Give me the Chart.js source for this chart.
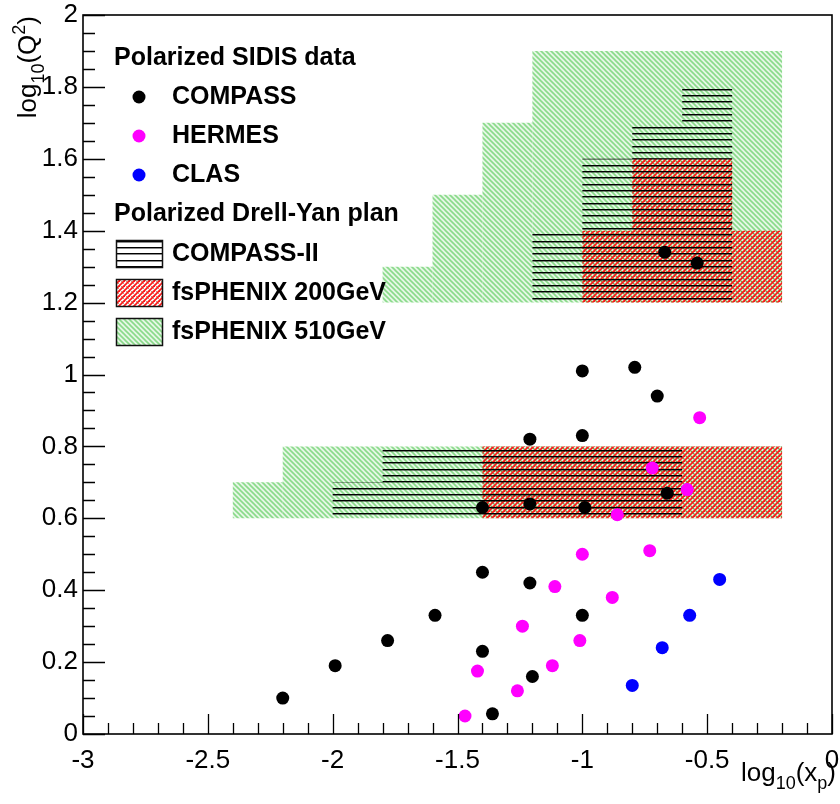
<!DOCTYPE html>
<html>
<head>
<meta charset="utf-8">
<script src="https://cdn.jsdelivr.net/npm/chart.js@4/dist/chart.umd.min.js"></script>
<style>
  html, body { margin: 0; padding: 0; background: #fff; }
</style>
</head>
<body>
<canvas id="kin" width="840" height="804"></canvas>
<script>
// log10(x) vs log10(Q^2) coverage: SIDIS data points and Drell-Yan projections
const xTickValues = [-3, -2.5, -2, -1.5, -1, -0.5, 0];
const xTickLabels = ["-3", "-2.5", "-2", "-1.5", "-1", "-0.5", "0"];
const yTickValues = [0, 0.2, 0.4, 0.6, 0.8, 1, 1.2, 1.4, 1.6, 1.8, 2];
const yTickLabels = ["0", "0.2", "0.4", "0.6", "0.8", "1", "1.2", "1.4", "1.6", "1.8", "2"];

// SIDIS measurements, [log10(x), log10(Q2)]
const compassPts = [
  [-2.20, 0.10], [-1.99, 0.19], [-1.78, 0.26], [-1.59, 0.33], [-1.40, 0.45],
  [-1.40, 0.23], [-1.36, 0.056], [-1.21, 0.42], [-1.20, 0.16], [-1.00, 0.33],
  [-1.40, 0.63], [-1.21, 0.64], [-0.99, 0.63], [-1.21, 0.82], [-1.00, 0.83],
  [-1.00, 1.01], [-0.79, 1.02], [-0.70, 0.94], [-0.66, 0.67], [-0.67, 1.34],
  [-0.54, 1.31]
];
const hermesPts = [
  [-1.47, 0.05], [-1.42, 0.175], [-1.26, 0.12], [-1.24, 0.30], [-1.12, 0.19],
  [-1.11, 0.41], [-1.01, 0.26], [-1.00, 0.50], [-0.88, 0.38], [-0.73, 0.51],
  [-0.86, 0.61], [-0.72, 0.74], [-0.58, 0.68], [-0.53, 0.88]
];
const clasPts = [[-0.80, 0.135], [-0.68, 0.24], [-0.57, 0.33], [-0.45, 0.43]];

// Drell-Yan bins, [xLow, xHigh, yLow, yHigh]
const compass2Bins = [
  [-1.2, -0.4, 1.2, 1.4], [-1.0, -0.4, 1.4, 1.6], [-0.8, -0.4, 1.6, 1.7], [-0.6, -0.4, 1.7, 1.8],
  [-2.0, -0.6, 0.6, 0.7], [-1.8, -0.6, 0.7, 0.8]
];
const phenix200Bins = [
  [-1.0, -0.2, 1.2, 1.4], [-0.8, -0.4, 1.4, 1.6], [-1.4, -0.2, 0.6, 0.8]
];
const phenix510Bins = [
  [-1.8, -1.6, 1.2, 1.3], [-1.6, -1.4, 1.2, 1.5], [-1.4, -1.2, 1.2, 1.7], [-1.2, -0.2, 1.2, 1.9],
  [-2.4, -2.2, 0.6, 0.7], [-2.2, -0.2, 0.6, 0.8]
];

const FONT = '"Liberation Sans", Arial, Helvetica, sans-serif';
const canvas = document.getElementById("kin");
const ctx = canvas.getContext("2d");

function makePattern(w, h, paint) {
  const tile = document.createElement("canvas");
  tile.width = w;
  tile.height = h;
  paint(tile.getContext("2d"), w, h);
  return ctx.createPattern(tile, "repeat");
}

// ROOT-like hatch styles
const greenHatch = makePattern(5, 5, (g, s) => {
  g.fillStyle = "rgba(205,240,205,0.5)";
  g.fillRect(0, 0, s, s);
  g.strokeStyle = "rgb(138,218,138)";
  g.lineWidth = 1.6;
  for (let k = -1; k <= 1; k++) {
    g.beginPath();
    g.moveTo(k * s - 1, -1);
    g.lineTo(k * s + s + 1, s + 1);
    g.stroke();
  }
});
const redHatch = makePattern(5, 5, (g, s) => {
  g.strokeStyle = "rgb(250,25,25)";
  g.lineWidth = 1.8;
  for (let k = -1; k <= 1; k++) {
    g.beginPath();
    g.moveTo(k * s - 1, s + 1);
    g.lineTo(k * s + s + 1, -1);
    g.stroke();
  }
  // darker crossings where the red overlays the green hatch
  g.fillStyle = "rgba(120,90,30,0.55)";
  g.fillRect(1, 1, 1, 1);
  g.fillRect(3, 3, 1, 1);
});
const lineHatch = makePattern(4, 19, (g, w) => {
  [0, 6, 13].forEach(y => {
    g.fillStyle = "#000";
    g.fillRect(0, y, w, 1);
    g.fillStyle = "rgba(0,0,0,0.45)";
    g.fillRect(0, y + 1, w, 1);
  });
});

const corners = b => [
  { x: b[0], y: b[2] }, { x: b[1], y: b[2] }, { x: b[1], y: b[3] },
  { x: b[0], y: b[3] }, { x: b[0], y: b[2] }
];

const binDatasets = (bins, pattern, order) => bins.map(b => ({
  type: "line",
  data: corners(b),
  fill: "shape",
  backgroundColor: pattern,
  borderWidth: 0,
  pointRadius: 0,
  tension: 0,
  order: order
}));

const pointDataset = (pts, color) => ({
  type: "scatter",
  data: pts.map(p => ({ x: p[0], y: p[1] })),
  backgroundColor: color,
  borderWidth: 0,
  pointRadius: 6.5,
  order: 0
});

// text with sub/superscripts, parts: [text, shift] where shift -1 sub, 1 sup
function richWidth(g, parts, size) {
  let w = 0;
  parts.forEach(([t, s]) => {
    g.font = `${s ? Math.round(size * 0.7) : size}px ${FONT}`;
    w += g.measureText(t).width;
  });
  return w;
}
function drawRich(g, parts, x, y, size) {
  parts.forEach(([t, s]) => {
    const fs = s ? Math.round(size * 0.7) : size;
    g.font = `${fs}px ${FONT}`;
    const dy = s < 0 ? size * 0.32 : s > 0 ? -size * 0.42 : 0;
    g.fillText(t, x, y + dy);
    x += g.measureText(t).width;
  });
}

const frameAndTicks = {
  id: "frameAndTicks",
  afterDatasetsDraw(chart) {
    const { ctx: g, chartArea: a, scales } = chart;
    const xs = scales.x, ys = scales.y;
    g.save();
    g.strokeStyle = "#000";
    g.lineWidth = 1.3;
    g.beginPath();
    for (let i = 0; i <= 30; i++) {
      const px = Math.round(xs.getPixelForValue(-3 + i * 0.1)) + 0.5;
      const len = i % 5 === 0 ? 20 : 11;
      g.moveTo(px, a.bottom);
      g.lineTo(px, a.bottom - len);
    }
    for (let i = 0; i <= 40; i++) {
      const py = Math.round(ys.getPixelForValue(i * 0.05)) + 0.5;
      const len = i % 4 === 0 ? 22 : 12;
      g.moveTo(a.left, py);
      g.lineTo(a.left + len, py);
    }
    g.stroke();
    g.lineWidth = 1.6;
    g.strokeRect(a.left, a.top, a.right - a.left, a.bottom - a.top);

    // axis titles
    g.fillStyle = "#000";
    g.textBaseline = "alphabetic";
    const xt = [["log", 0], ["10", -1], ["(x", 0], ["p", -1], [")", 0]];
    drawRich(g, xt, 836 - richWidth(g, xt, 26), 781, 26);
    const yt = [["log", 0], ["10", -1], ["(Q", 0], ["2", 1], [")", 0]];
    g.translate(36, 16 + richWidth(g, yt, 26));
    g.rotate(-Math.PI / 2);
    drawRich(g, yt, 0, 0, 26);
    g.restore();
  }
};

const legendBox = {
  id: "legendBox",
  afterDraw(chart) {
    const g = chart.ctx;
    g.save();
    g.fillStyle = "#000";
    g.textBaseline = "middle";
    g.font = `bold 25px ${FONT}`;
    g.fillText("Polarized SIDIS data", 114, 58);
    g.fillText("Polarized Drell-Yan plan", 114, 214);
    [["COMPASS", "#000", 97], ["HERMES", "#ff00ff", 136], ["CLAS", "#0000ff", 175]]
      .forEach(([name, color, y]) => {
        g.fillStyle = color;
        g.beginPath();
        g.arc(139, y, 6.5, 0, Math.PI * 2);
        g.fill();
        g.fillStyle = "#000";
        g.fillText(name, 172, y);
      });
    [["COMPASS-II", lineHatch, 254], ["fsPHENIX 200GeV", redHatch, 293], ["fsPHENIX 510GeV", greenHatch, 332]]
      .forEach(([name, pat, y]) => {
        g.fillStyle = pat;
        g.fillRect(116, y - 13, 46, 27);
        g.strokeStyle = "#111";
        g.lineWidth = 1.5;
        g.strokeRect(116.5, y - 13.5, 46, 27);
        g.fillStyle = "#000";
        g.fillText(name, 172, y);
      });
    g.restore();
  }
};

const tickFont = { family: FONT, size: 26 };

new Chart(ctx, {
  type: "scatter",
  data: {
    datasets: [
      pointDataset(compassPts, "#000"),
      pointDataset(hermesPts, "#ff00ff"),
      pointDataset(clasPts, "#0000ff"),
      ...binDatasets(compass2Bins, lineHatch, 1),
      ...binDatasets(phenix200Bins, redHatch, 2),
      ...binDatasets(phenix510Bins, greenHatch, 3)
    ]
  },
  options: {
    responsive: false,
    animation: false,
    events: [],
    layout: { padding: { top: 15, right: 8, left: 0, bottom: 0 } },
    plugins: { legend: { display: false }, tooltip: { enabled: false } },
    scales: {
      x: {
        type: "linear", min: -3, max: 0,
        afterBuildTicks: s => { s.ticks = xTickValues.map(v => ({ value: v })); },
        afterFit: s => { s.height = 70; s.paddingLeft = 0; s.paddingRight = 0; },
        grid: { display: false, drawTicks: false },
        border: { display: false },
        ticks: {
          font: tickFont, color: "#000", padding: 11, maxRotation: 0, autoSkip: false,
          callback: (v, i) => xTickLabels[i]
        }
      },
      y: {
        type: "linear", min: 0, max: 2,
        afterBuildTicks: s => { s.ticks = yTickValues.map(v => ({ value: v })); },
        afterFit: s => { s.width = 83; s.paddingTop = 0; s.paddingBottom = 0; },
        grid: { display: false, drawTicks: false },
        border: { display: false },
        ticks: {
          font: tickFont, color: "#000", padding: 5, autoSkip: false,
          callback: (v, i) => yTickLabels[i]
        }
      }
    }
  },
  plugins: [frameAndTicks, legendBox]
});
</script>
</body>
</html>
